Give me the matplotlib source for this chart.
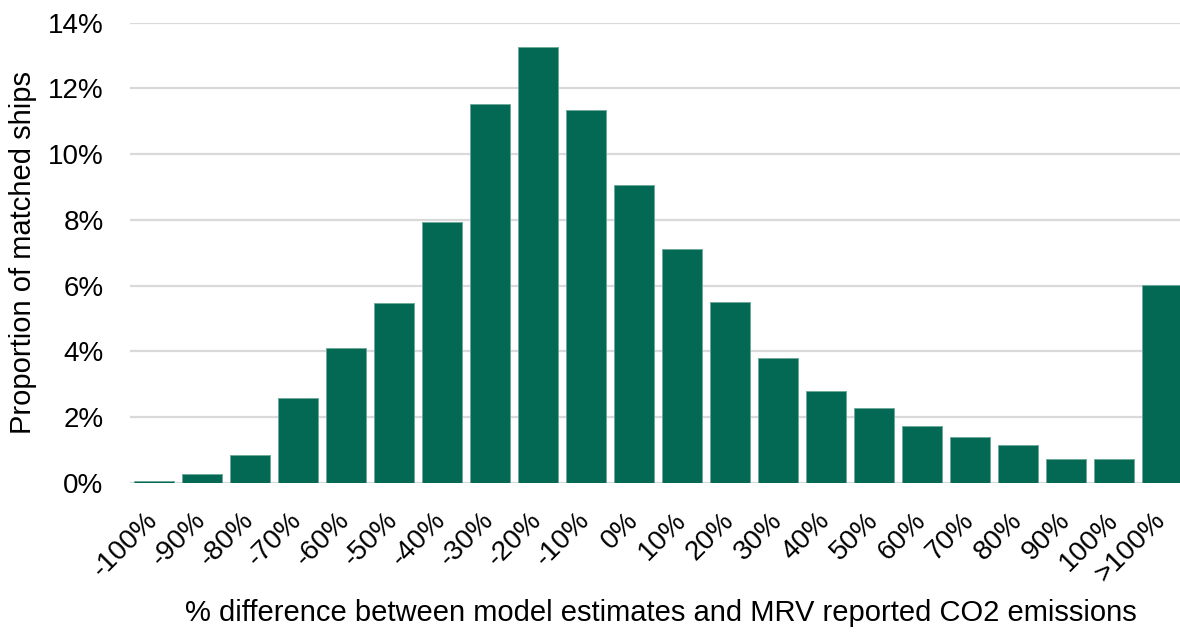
import matplotlib
matplotlib.use('Agg')
import matplotlib.pyplot as plt
from matplotlib.ticker import FuncFormatter
import numpy as np

plt.rcParams['font.family'] = ['Liberation Sans', 'DejaVu Sans']

# share of matched ships (%) in each 10% difference bin
bins = ['-100%', '-90%', '-80%', '-70%', '-60%', '-50%', '-40%', '-30%', '-20%', '-10%',
        '0%', '10%', '20%', '30%', '40%', '50%', '60%', '70%', '80%', '90%', '100%', '>100%']
share = [0.07, 0.26, 0.84, 2.60, 4.11, 5.46, 7.94, 11.54, 13.25, 11.34,
         9.05, 7.12, 5.49, 3.81, 2.79, 2.29, 1.74, 1.39, 1.16, 0.72, 0.72, 6.03]

x = np.arange(len(bins))

fig = plt.figure(figsize=(11.8, 6.32), dpi=100)
# axes run slightly past the right edge so the last bar is clipped
ax = fig.add_axes([130 / 1180, (632 - 483) / 632, 1056 / 1180, 460.3 / 632])

ax.bar(x, share, width=0.84, color='#036954', edgecolor='#6fa99a', linewidth=0.7, zorder=2)

ax.set_xlim(-0.5, len(bins) - 0.5)
ax.set_ylim(0, 14)
ax.set_yticks(np.arange(0, 15, 2))
ax.yaxis.set_major_formatter(FuncFormatter(lambda v, p: '%d%%' % v))
ax.grid(axis='y', color='#d9d9d9', linewidth=1.6, zorder=0)
ax.tick_params(axis='y', length=0, pad=19, labelsize=20)

ax.set_xticks(x)
ax.set_xticklabels(bins, rotation=45, ha='right', va='center', rotation_mode='anchor')
ax.tick_params(axis='x', length=0, pad=24, labelsize=20)

for side in ['top', 'right', 'left', 'bottom']:
    ax.spines[side].set_visible(False)

ax.set_ylabel('Proportion of matched ships', fontsize=21)
ax.yaxis.set_label_coords(-0.088, 0.5)
ax.set_xlabel('% difference between model estimates and MRV reported CO2 emissions', fontsize=21)
ax.xaxis.set_label_coords(0.503, -0.252)

fig.savefig('out.png', dpi=100)
